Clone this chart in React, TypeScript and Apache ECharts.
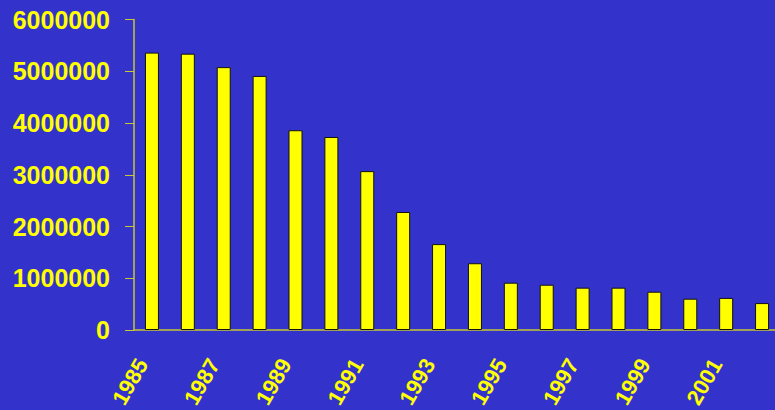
import React, { useEffect, useRef } from "react";
import * as echarts from "echarts";

const years = ["1985","1986","1987","1988","1989","1990","1991","1992","1993","1994","1995","1996","1997","1998","1999","2000","2001","2002"];
const values = [5360000,5340000,5080000,4910000,3860000,3730000,3070000,2280000,1660000,1290000,914000,875000,818000,818000,740000,605000,620000,520000];
const yMax = 6000000;
const yStep = 1000000;

export default function App() {
  const ref = useRef<HTMLDivElement>(null);
  useEffect(() => {
    const chart = echarts.init(ref.current!, null, { renderer: "svg" });
    chart.setOption({
      animation: false,
      backgroundColor: "#3333cc",
      grid: { left: 134, right: 10, top: 19.5, bottom: 80, outerBoundsMode: "none", containLabel: false },
      xAxis: {
        type: "category",
        data: years,
        axisLine: { lineStyle: { color: "#c8c830", width: 1.5 } },
        axisTick: { interval: 0, length: 8, lineStyle: { color: "#c8c830" } },
        axisLabel: {
          interval: 1,
          rotate: 60,
          margin: 36,
          verticalAlign: "bottom",
          color: "#ffff00",
          fontSize: 22,
          fontWeight: "bold",
          fontFamily: "Liberation Sans, Arial, sans-serif",
        },
      },
      yAxis: {
        type: "value",
        min: 0,
        max: yMax,
        interval: yStep,
        splitLine: { show: false },
        axisLine: { show: true, lineStyle: { color: "#c8c830", width: 1.5 } },
        axisTick: { show: true, length: 9, lineStyle: { color: "#c8c830" } },
        axisLabel: {
          margin: 24,
          color: "#ffff00",
          fontSize: 25,
          fontWeight: "bold",
          fontFamily: "Liberation Sans, Arial, sans-serif",
          formatter: (v: number) => String(v),
        },
      },
      series: [
        {
          type: "bar",
          data: values,
          barWidth: 14,
          itemStyle: { color: "#ffff00", borderColor: "#111111", borderWidth: 1 },
        },
      ],
    });
    return () => chart.dispose();
  }, []);
  return (
    <div style={{ position: "absolute", left: 0, top: 0, width: 775, height: 410, overflow: "hidden" }}>
      <div ref={ref} style={{ width: 790, height: 410 }} />
    </div>
  );
}
